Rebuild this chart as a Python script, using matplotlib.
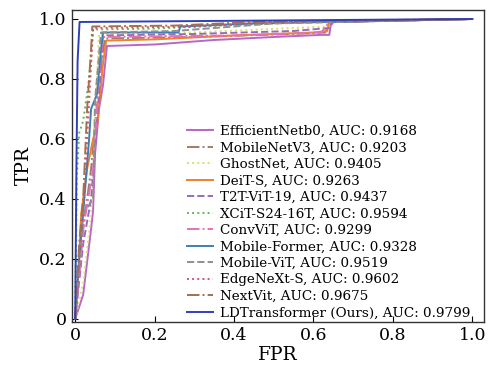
import matplotlib
matplotlib.use("Agg")
import matplotlib.pyplot as plt

plt.rcParams["font.family"] = ["DejaVu Serif"]
plt.rcParams["mathtext.fontset"] = "dejavuserif"

names = ["EfficientNetb0", "MobileNetV3", "GhostNet", "DeiT-S", "T2T-ViT-19",
         "XCiT-S24-16T", "ConvViT", "Mobile-Former", "Mobile-ViT", "EdgeNeXt-S",
         "NextVit", "LDTransformer (Ours)"]
aucs = [0.9168, 0.9203, 0.9405, 0.9263, 0.9437, 0.9594, 0.9299, 0.9328,
        0.9519, 0.9602, 0.9675, 0.9799]

# ROC curves (fpr, tpr)
fpr_eff = [0, 0.02, 0.04, 0.045, 0.05, 0.06, 0.07, 0.08, 0.2, 0.35, 0.5, 0.62, 0.64, 0.645, 0.8, 1]
tpr_eff = [0, 0.08, 0.3, 0.36, 0.55, 0.7, 0.78, 0.91, 0.915, 0.93, 0.94, 0.947, 0.947, 0.99, 0.995, 1]
fpr_mnv3 = [0, 0.02, 0.04, 0.06, 0.075, 0.3, 0.55, 0.63, 0.64, 1]
tpr_mnv3 = [0, 0.3, 0.5, 0.8, 0.935, 0.94, 0.95, 0.955, 0.99, 1]
fpr_ghost = [0, 0.02, 0.04, 0.055, 0.06, 0.3, 0.55, 0.64, 0.65, 1]
tpr_ghost = [0, 0.12, 0.35, 0.8, 0.95, 0.955, 0.97, 0.975, 0.99, 1]
fpr_deit = [0, 0.01, 0.015, 0.03, 0.045, 0.055, 0.07, 0.078, 0.2, 0.4, 0.6, 0.635, 0.64, 1]
tpr_deit = [0, 0.2, 0.35, 0.5, 0.6, 0.64, 0.85, 0.928, 0.932, 0.945, 0.955, 0.96, 0.99, 1]
fpr_t2t = [0, 0.02, 0.04, 0.06, 0.07, 0.3, 0.55, 0.64, 0.65, 1]
tpr_t2t = [0, 0.25, 0.4, 0.75, 0.945, 0.95, 0.96, 0.97, 0.99, 1]
fpr_xcit = [0, 0.004, 0.01, 0.02, 0.035, 0.045, 0.2, 0.4, 0.6, 1]
tpr_xcit = [0, 0.47, 0.62, 0.66, 0.8, 0.965, 0.968, 0.98, 0.99, 1]
fpr_conv = [0, 0.02, 0.045, 0.06, 0.07, 0.4, 0.62, 0.64, 1]
tpr_conv = [0, 0.3, 0.5, 0.8, 0.94, 0.945, 0.955, 0.99, 1]
fpr_mf = [0, 0.01, 0.02, 0.035, 0.04, 0.055, 0.065, 0.07, 0.26, 0.265, 0.45, 1]
tpr_mf = [0, 0.2, 0.35, 0.6, 0.7, 0.75, 0.9, 0.955, 0.955, 0.975, 0.985, 1]
fpr_mvit = [0, 0.02, 0.045, 0.05, 0.065, 0.25, 0.5, 1]
tpr_mvit = [0, 0.35, 0.4, 0.73, 0.955, 0.96, 0.985, 1]
fpr_edge = [0, 0.01, 0.02, 0.03, 0.045, 0.3, 0.5, 1]
tpr_edge = [0, 0.2, 0.35, 0.6, 0.97, 0.975, 0.99, 1]
fpr_next = [0, 0.01, 0.02, 0.03, 0.04, 0.043, 0.25, 0.45, 0.7, 1]
tpr_next = [0, 0.25, 0.4, 0.7, 0.9, 0.975, 0.978, 0.99, 0.995, 1]
fpr_ldt = [0, 0.003, 0.006, 0.011, 0.3, 0.6, 1]
tpr_ldt = [0, 0.5, 0.86, 0.99, 0.993, 0.996, 1]

fprs = [fpr_eff, fpr_mnv3, fpr_ghost, fpr_deit, fpr_t2t, fpr_xcit, fpr_conv,
        fpr_mf, fpr_mvit, fpr_edge, fpr_next, fpr_ldt]
tprs = [tpr_eff, tpr_mnv3, tpr_ghost, tpr_deit, tpr_t2t, tpr_xcit, tpr_conv,
        tpr_mf, tpr_mvit, tpr_edge, tpr_next, tpr_ldt]

colors = ["#b866c8", "#a57a6a", "#d9e063", "#f0802c", "#9a6ab8", "#5cba5c",
          "#e472b4", "#3a80b8", "#8f8f8f", "#d8506a", "#a4704e", "#3040b8"]
styles = ["-", "-.", ":", "-", "--", ":", "-.", "-", "--", ":", "-.", "-"]

fig = plt.figure(figsize=(4.9, 3.7), dpi=100)
ax = fig.add_axes([0.147, 0.130, 0.841, 0.843])

for i in range(len(names)):
    ax.plot(fprs[i], tprs[i], color=colors[i], linestyle=styles[i], linewidth=1.4,
            label="%s, AUC: %.4f" % (names[i], aucs[i]))

ax.set_xlim(-0.008, 1.03)
ax.set_ylim(-0.01, 1.03)
ticks = [0, 0.2, 0.4, 0.6, 0.8, 1.0]
ticklabels = ["0", "0.2", "0.4", "0.6", "0.8", "1.0"]
ax.set_xticks(ticks)
ax.set_xticklabels(ticklabels)
ax.set_yticks(ticks)
ax.set_yticklabels(ticklabels)
ax.tick_params(direction="in", labelsize=12.5, length=4, pad=4)
for s in ax.spines.values():
    s.set_color("#333333")
    s.set_linewidth(1.0)

ax.set_xlabel("FPR", fontsize=13.5, labelpad=1)
ax.set_ylabel("TPR", fontsize=13.5, labelpad=4)

ax.legend(loc="lower right", bbox_to_anchor=(0.99, -0.022), frameon=False,
          fontsize=9.7, labelspacing=0.26, handlelength=2.0, handletextpad=0.5,
          borderpad=0.2)

plt.savefig("out.png", dpi=100)
